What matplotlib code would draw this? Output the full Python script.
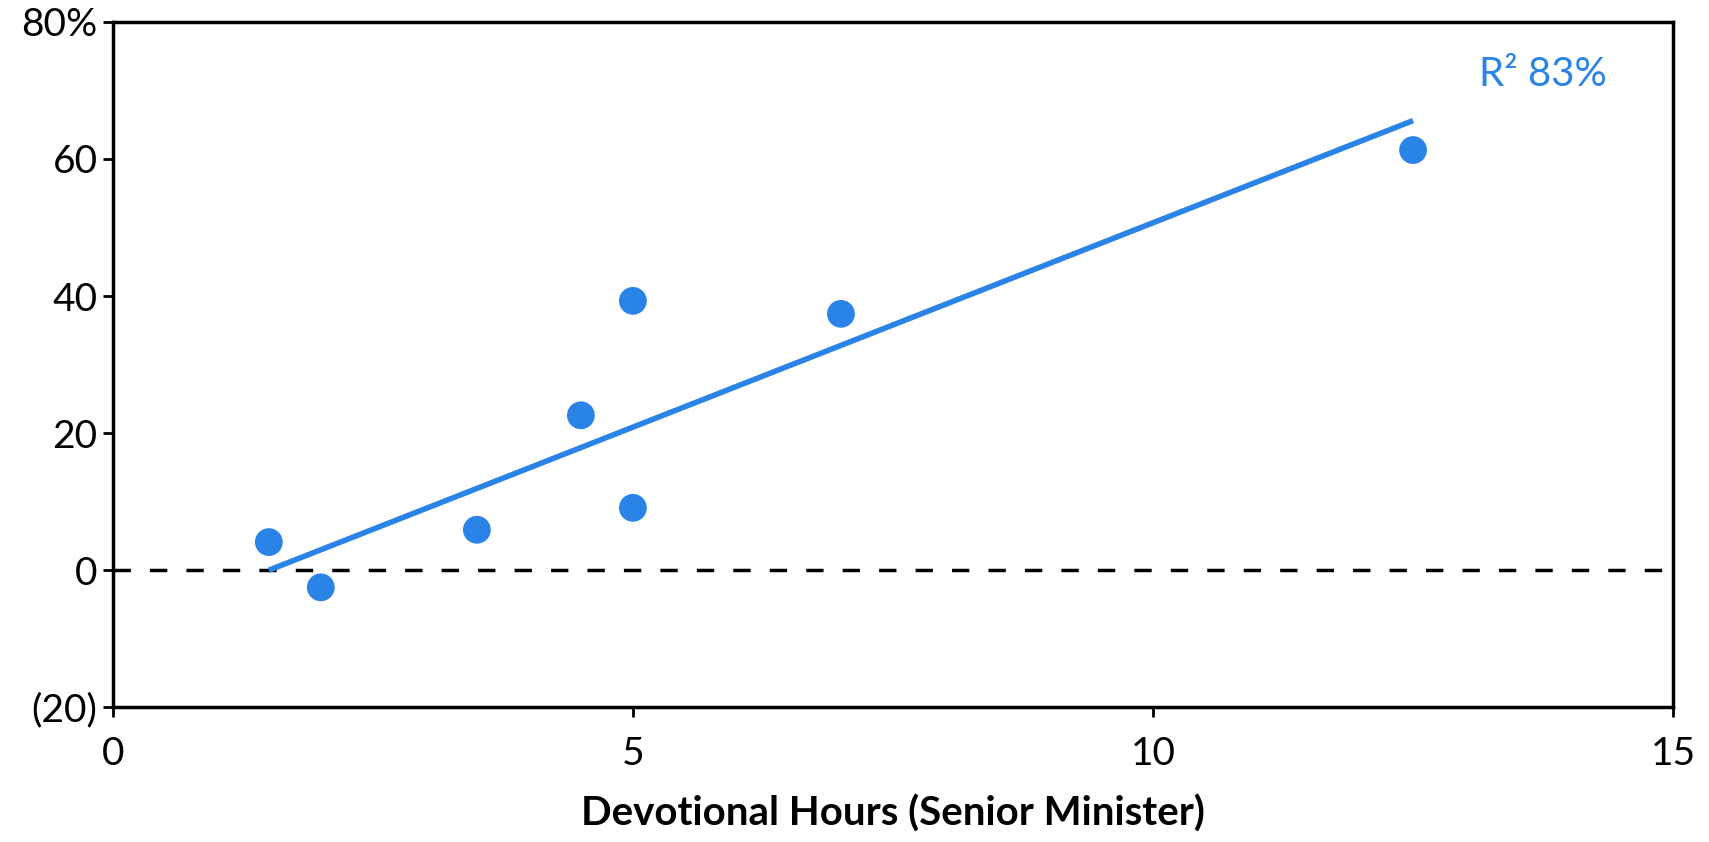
import matplotlib
matplotlib.use('Agg')
import matplotlib.pyplot as plt
from matplotlib.ticker import FixedLocator

plt.rcParams['font.family'] = ['Lato', 'DejaVu Sans']

hours = [1.5, 2.0, 3.5, 4.5, 5.0, 5.0, 7.0, 12.5]
growth = [4.1, -2.5, 5.9, 22.6, 39.3, 9.1, 37.4, 61.3]
trend_x = [1.5, 12.5]
trend_y = [0.0, 65.6]
y_ticks = [-20, 0, 20, 40, 60, 80]
y_labels = ['(20)', '0', '20', '40', '60', '80%']
x_ticks = [0, 5, 10, 15]
r2_text = 'R² 83%'

blue = '#2A83E6'

fig = plt.figure(figsize=(17.09, 8.42), dpi=100)
ax = fig.add_axes([0.066, 0.160, 0.913, 0.814])

ax.axhline(0, color='black', lw=2.5, ls=(0, (5, 5.5)), zorder=1)
ax.plot(trend_x, trend_y, color=blue, lw=4, solid_capstyle='butt', zorder=2)
ax.scatter(hours, growth, s=400, color=blue, edgecolors='none', zorder=3)

ax.text(13.75, 72.3, r2_text, color=blue, fontsize=29, ha='center', va='center')

ax.set_xlim(0, 15)
ax.set_ylim(-20, 80)
ax.xaxis.set_major_locator(FixedLocator(x_ticks))
ax.set_yticks(y_ticks)
ax.set_yticklabels(y_labels)
ax.tick_params(axis='both', direction='out', length=7, width=2, labelsize=28, colors='black')
ax.tick_params(axis='x', pad=14)
ax.tick_params(axis='y', pad=4)

for s in ax.spines.values():
    s.set_linewidth(2.5)
    s.set_color('black')

ax.set_xlabel('Devotional Hours (Senior Minister)', fontsize=29, fontweight='bold', labelpad=16)

fig.savefig('out.png', dpi=100)
